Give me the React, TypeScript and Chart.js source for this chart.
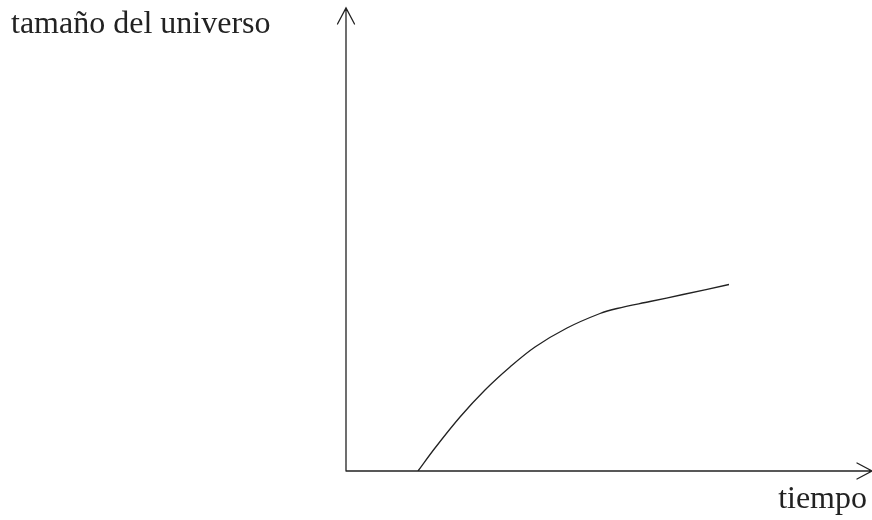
import React, { useEffect, useRef } from "react";
import { Chart, registerables } from "chart.js";

Chart.register(...registerables);

// time (units from origin) and size of universe
const timeValues = [72, 89, 114, 139, 164, 189, 221, 254, 271, 304, 337, 383];
const sizeValues = [0, 23, 54, 81, 104, 124, 143, 157.5, 162.5, 169.5, 176.5, 186.5];
const yAxisLabel = "tamaño del universo";
const xAxisLabel = "tiempo";

const arrowPlugin = {
  id: "arrowAxes",
  afterDraw(chart: any) {
    const ctx = chart.ctx as CanvasRenderingContext2D;
    const { left, bottom, top, right } = chart.chartArea;
    ctx.save();
    ctx.strokeStyle = "#222";
    ctx.lineWidth = 1.3;
    ctx.lineCap = "round";
    ctx.beginPath();
    // y axis
    ctx.moveTo(left, bottom);
    ctx.lineTo(left, top);
    ctx.moveTo(left - 8.5, top + 16);
    ctx.lineTo(left, top);
    ctx.lineTo(left + 8.5, top + 16);
    // x axis
    ctx.moveTo(left, bottom);
    ctx.lineTo(right, bottom);
    ctx.moveTo(right - 15, bottom - 8);
    ctx.lineTo(right, bottom);
    ctx.lineTo(right - 15, bottom + 8);
    ctx.stroke();
    ctx.fillStyle = "#222";
    ctx.font = '32px "Liberation Serif", "Times New Roman", serif';
    ctx.textBaseline = "alphabetic";
    ctx.textAlign = "left";
    ctx.fillText(yAxisLabel, 11, 33);
    ctx.textAlign = "right";
    ctx.fillText(xAxisLabel, 867, 508);
    ctx.restore();
  },
};

export default function App() {
  const ref = useRef<HTMLCanvasElement>(null);
  useEffect(() => {
    if (!ref.current) return;
    const chart = new Chart(ref.current, {
      type: "line",
      data: {
        datasets: [
          {
            data: timeValues.map((t, i) => ({ x: t, y: sizeValues[i] })),
            borderColor: "#222",
            borderWidth: 1.3,
            pointRadius: 0,
            tension: 0.35,
            fill: false,
          },
        ],
      },
      options: {
        animation: false,
        responsive: false,
        maintainAspectRatio: false,
        layout: { padding: { left: 346, top: 8, right: 0, bottom: 49 } },
        plugins: { legend: { display: false }, tooltip: { enabled: false } },
        scales: {
          x: { type: "linear", display: false, min: 0, max: 526 },
          y: { type: "linear", display: false, min: 0, max: 463 },
        },
      },
      plugins: [arrowPlugin],
    });
    return () => chart.destroy();
  }, []);
  return (
    <div style={{ position: "fixed", left: 0, top: 0, width: 872, height: 520, background: "#fff" }}>
      <canvas ref={ref} width={872} height={520} style={{ width: 872, height: 520 }} />
    </div>
  );
}
